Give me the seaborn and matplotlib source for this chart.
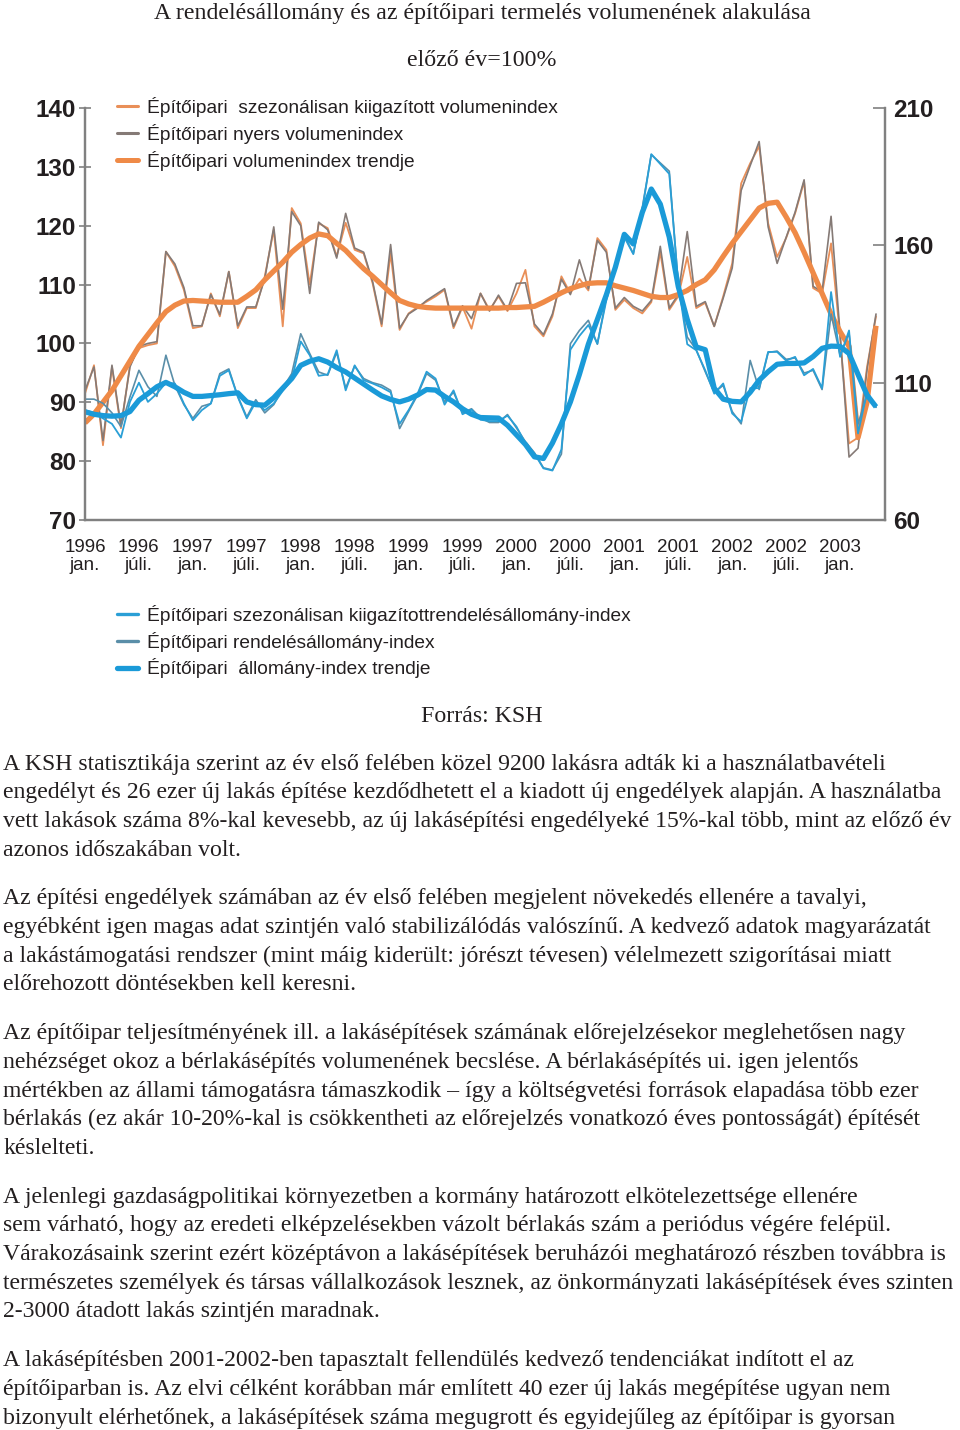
import matplotlib
matplotlib.use('Agg')
import matplotlib.pyplot as plt
from matplotlib.lines import Line2D
import pandas as pd
import seaborn as sns

# monthly data, 1996 jan. - 2003 máj.
vol_sa = [91.5, 96.3, 82.7, 96.0, 85.6, 96.3, 99.2, 99.7, 100.0, 115.6, 113.1, 109.1,
          102.6, 102.9, 108.5, 104.6, 112.2, 102.6, 106.0, 106.0, 111.4, 119.3, 102.9, 123.0,
          120.4, 110.0, 120.4, 119.6, 114.8, 120.5, 115.9, 115.3, 110.2, 102.9, 115.3, 102.3,
          105.1, 106.2, 107.1, 108.0, 109.1, 102.6, 106.2, 102.5, 108.5, 105.7, 108.0, 105.5,
          108.5, 112.5, 102.9, 101.2, 104.6, 111.4, 108.5, 111.0, 109.0, 117.9, 115.9, 105.7,
          107.4, 106.0, 105.1, 107.0, 115.5, 105.7, 108.0, 114.7, 106.0, 106.9, 102.9, 108.0,
          113.6, 127.2, 130.6, 133.5, 120.4, 114.7, 117.9, 122.1, 127.5, 109.4, 108.5, 117.0,
          101.2, 83.0, 84.0, 96.0, 104.6]
vol_raw = [92.0, 96.0, 83.5, 96.3, 86.0, 96.0, 99.5, 100.0, 100.3, 115.6, 113.5, 109.5,
           103.0, 103.0, 108.3, 104.9, 112.2, 103.0, 106.2, 106.2, 111.0, 119.8, 105.8, 122.4,
           120.0, 108.5, 120.6, 119.3, 114.5, 122.1, 116.2, 115.5, 110.5, 103.3, 116.8, 102.6,
           105.0, 106.0, 107.3, 108.3, 109.3, 102.9, 106.4, 104.2, 108.5, 105.5, 108.2, 105.7,
           110.2, 110.3, 103.3, 101.5, 105.0, 110.9, 108.3, 114.2, 109.3, 117.5, 115.5, 106.0,
           107.8, 106.3, 105.5, 107.3, 116.5, 106.0, 108.3, 119.0, 106.3, 107.1, 102.9, 107.7,
           112.8, 126.0, 130.2, 134.3, 119.8, 113.6, 118.0, 122.3, 127.8, 109.7, 108.8, 121.6,
           101.7, 80.7, 82.2, 95.5, 105.0]
vol_trend = [86.5, 88.0, 90.0, 92.0, 94.5, 97.0, 99.5, 101.5, 103.5, 105.4, 106.5, 107.2,
             107.3, 107.2, 107.1, 107.0, 107.0, 107.0, 108.0, 109.1, 110.8, 112.3, 113.8, 115.5,
             116.8, 117.9, 118.6, 118.3, 117.0, 115.8, 114.2, 112.7, 111.4, 110.0, 108.6, 107.3,
             106.7, 106.3, 106.1, 106.0, 106.0, 106.0, 106.0, 106.0, 106.0, 106.0, 106.0, 106.1,
             106.1, 106.2, 106.3, 107.0, 107.8, 108.6, 109.3, 109.8, 110.2, 110.3, 110.3, 109.8,
             109.4, 109.0, 108.5, 108.0, 107.8, 107.8, 108.3, 109.0, 110.0, 110.8, 112.5, 114.8,
             117.0, 119.0, 121.0, 123.0, 123.8, 124.0, 121.5, 118.8, 115.5, 112.0, 108.5, 105.0,
             102.0, 99.5, 84.0, 90.0, 103.0]

ord_sa = [100.0, 99.0, 97.0, 95.0, 90.0, 103.0, 110.0, 103.0, 106.0, 110.0, 109.7, 102.4,
          96.3, 100.0, 102.4, 112.5, 114.5, 104.8, 97.0, 103.0, 100.0, 102.4, 107.0, 111.0,
          125.0, 120.0, 112.5, 113.0, 121.8, 107.2, 116.3, 110.9, 109.7, 108.3, 106.5, 95.0,
          100.0, 106.0, 114.0, 111.5, 102.0, 107.2, 98.5, 100.2, 96.5, 96.0, 96.0, 98.0,
          94.0, 87.9, 84.2, 78.8, 78.0, 85.7, 122.0, 127.0, 131.0, 124.2, 140.0, 152.0,
          163.0, 156.8, 173.0, 193.2, 189.6, 186.0, 146.0, 124.0, 121.8, 114.5, 106.0, 109.7,
          98.8, 95.8, 108.0, 108.0, 121.2, 121.2, 118.0, 119.4, 112.7, 115.0, 108.0, 143.0,
          119.4, 129.0, 91.5, 106.6, 101.2]
ord_raw = [104.0, 104.0, 102.5, 99.0, 94.0, 104.8, 114.5, 108.5, 105.0, 120.0, 109.0, 102.0,
           97.0, 101.4, 102.4, 113.3, 115.0, 105.0, 97.5, 103.8, 99.0, 102.0, 108.0, 113.3,
           127.8, 120.6, 113.9, 112.7, 121.0, 108.0, 116.0, 111.5, 110.0, 109.1, 107.2, 93.3,
           99.5, 105.5, 113.3, 110.9, 103.0, 106.5, 99.0, 100.5, 97.2, 95.5, 95.5, 98.4,
           93.5, 88.5, 84.5, 79.0, 78.2, 84.0, 124.2, 129.0, 132.7, 124.0, 141.0, 153.0,
           163.5, 157.0, 173.8, 193.0, 190.0, 187.0, 146.0, 126.6, 122.0, 114.0, 106.5, 109.0,
           99.5, 95.0, 118.1, 107.5, 121.0, 121.5, 118.5, 119.0, 113.5, 114.5, 107.5, 135.0,
           120.0, 128.0, 95.0, 105.5, 101.0]
ord_trend = [99.4, 98.5, 98.0, 97.8, 98.0, 99.5, 103.6, 106.0, 108.5, 110.1, 108.5, 106.5,
             105.0, 105.0, 105.3, 105.6, 106.0, 106.3, 103.0, 102.0, 101.8, 104.5, 108.0, 111.5,
             116.3, 117.8, 118.7, 117.5, 115.5, 113.9, 111.7, 109.5, 107.3, 105.2, 103.9, 103.0,
             104.0, 105.5, 107.5, 107.3, 105.0, 103.0, 100.5, 98.5, 97.3, 97.2, 97.1, 94.5,
             91.0, 87.5, 83.0, 82.4, 88.0, 95.0, 103.0, 113.0, 124.0, 133.0, 142.0, 152.0,
             164.0, 160.5, 172.0, 180.5, 175.0, 163.0, 145.0, 133.0, 123.0, 122.0, 108.0, 104.0,
             103.2, 103.0, 106.5, 110.9, 114.0, 116.7, 117.0, 117.0, 117.2, 119.5, 122.5, 123.3,
             123.2, 120.6, 113.0, 105.5, 101.2]

tick_labels = ['1996\njan.', '1996\njúli.', '1997\njan.', '1997\njúli.', '1998\njan.',
               '1998\njúli.', '1999\njan.', '1999\njúli.', '2000\njan.', '2000\njúli.',
               '2001\njan.', '2001\njúli.', '2002\njan.', '2002\njúli.', '2003\njan.']

vol_labels = ['Építőipari  szezonálisan kiigazított volumenindex',
              'Építőipari nyers volumenindex',
              'Építőipari volumenindex trendje']
ord_labels = ['Építőipari szezonálisan kiigazítottrendelésállomány-index',
              'Építőipari rendelésállomány-index',
              'Építőipari  állomány-index trendje']

paragraphs = [
    ['A KSH statisztikája szerint az év első felében közel 9200 lakásra adták ki a használatbavételi',
     'engedélyt és 26 ezer új lakás építése kezdődhetett el a kiadott új engedélyek alapján. A használatba',
     'vett lakások száma 8%-kal kevesebb, az új lakásépítési engedélyeké 15%-kal több, mint az előző év',
     'azonos időszakában volt.'],
    ['Az építési engedélyek számában az év első felében megjelent növekedés ellenére a tavalyi,',
     'egyébként igen magas adat szintjén való stabilizálódás valószínű. A kedvező adatok magyarázatát',
     'a lakástámogatási rendszer (mint máig kiderült: jórészt tévesen) vélelmezett szigorításai miatt',
     'előrehozott döntésekben kell keresni.'],
    ['Az építőipar teljesítményének ill. a lakásépítések számának előrejelzésekor meglehetősen nagy',
     'nehézséget okoz a bérlakásépítés volumenének becslése. A bérlakásépítés ui. igen jelentős',
     'mértékben az állami támogatásra támaszkodik – így a költségvetési források elapadása több ezer',
     'bérlakás (ez akár 10-20%-kal is csökkentheti az előrejelzés vonatkozó éves pontosságát) építését',
     'késlelteti.'],
    ['A jelenlegi gazdaságpolitikai környezetben a kormány határozott elkötelezettsége ellenére',
     'sem várható, hogy az eredeti elképzelésekben vázolt bérlakás szám a periódus végére felépül.',
     'Várakozásaink szerint ezért középtávon a lakásépítések beruházói meghatározó részben továbbra is',
     'természetes személyek és társas vállalkozások lesznek, az önkormányzati lakásépítések éves szinten',
     '2-3000 átadott lakás szintjén maradnak.'],
    ['A lakásépítésben 2001-2002-ben tapasztalt fellendülés kedvező tendenciákat indított el az',
     'építőiparban is. Az elvi célként korábban már említett 40 ezer új lakás megépítése ugyan nem',
     'bizonyult elérhetőnek, a lakásépítések száma megugrott és egyidejűleg az építőipar is gyorsan'],
]

sns.set_style('white')
plt.rcParams['font.family'] = ['Liberation Sans', 'DejaVu Sans']

ORANGE = '#ef8a47'
ORANGE_THIN = '#e98f58'
GRAY = '#857a76'
BLUE = '#1a9ad8'
BLUE_THIN = '#2a9fd6'
BLUE_GRAY = '#5a8ea8'
AXIS_GRAY = '#808080'
TEXT = '#231f20'

df = pd.DataFrame({'month': range(len(vol_sa)),
                   'vol_sa': vol_sa, 'vol_raw': vol_raw, 'vol_trend': vol_trend,
                   'ord_sa': ord_sa, 'ord_raw': ord_raw, 'ord_trend': ord_trend})

W, H = 960, 1430
fig = plt.figure(figsize=(W / 100, H / 100), dpi=100)
ax = fig.add_axes([85 / W, 1 - 520 / H, 800 / W, 412 / H])

sns.lineplot(data=df, x='month', y='vol_sa', ax=ax, color=ORANGE_THIN, lw=1.3)
sns.lineplot(data=df, x='month', y='vol_raw', ax=ax, color=GRAY, lw=1.2)
sns.lineplot(data=df, x='month', y='vol_trend', ax=ax, color=ORANGE, lw=3.8,
             solid_capstyle='butt')

ax2 = ax.twinx()
sns.lineplot(data=df, x='month', y='ord_raw', ax=ax2, color=BLUE_GRAY, lw=1.2)
sns.lineplot(data=df, x='month', y='ord_sa', ax=ax2, color=BLUE_THIN, lw=1.3)
sns.lineplot(data=df, x='month', y='ord_trend', ax=ax2, color=BLUE, lw=3.8,
             solid_capstyle='butt')

ax.set_xlim(0, 89)
ax.set_ylim(70, 140)
ax2.set_ylim(60, 210)
ax.set_yticks([70, 80, 90, 100, 110, 120, 130, 140])
ax2.set_yticks([60, 110, 160, 210])
ax.set_xticks(range(0, 85, 6))
ax.set_xticklabels(tick_labels, fontsize=13.5, linespacing=1.05, color=TEXT)
ax.set_xlabel('')
ax.set_ylabel('')
ax2.set_ylabel('')

for a in (ax, ax2):
    for side in ('left', 'right', 'bottom'):
        a.spines[side].set_color(AXIS_GRAY)
        a.spines[side].set_linewidth(1.6)
    a.spines['top'].set_visible(False)

ax.tick_params(axis='y', direction='inout', length=9, width=1.2, color=AXIS_GRAY,
               labelsize=17.5, pad=2, labelcolor=TEXT)
ax.tick_params(axis='x', direction='inout', length=12, width=1.2, color=AXIS_GRAY, pad=8)
ax2.tick_params(axis='y', direction='in', length=9, width=1.2, color=AXIS_GRAY,
                labelsize=17.5, pad=6, labelcolor=TEXT)
for lab in ax.get_yticklabels() + ax2.get_yticklabels():
    lab.set_fontweight('bold')

vol_handles = [Line2D([], [], color=ORANGE_THIN, lw=2.2),
               Line2D([], [], color=GRAY, lw=2.2),
               Line2D([], [], color=ORANGE, lw=3.6)]
leg1 = ax.legend(vol_handles, vol_labels, loc='upper left', bbox_to_anchor=(0.03, 1.045),
                 frameon=False, fontsize=13.8, handlelength=1.1, handletextpad=0.5,
                 labelspacing=0.36, borderaxespad=0)
for t in leg1.get_texts():
    t.set_color(TEXT)

ord_handles = [Line2D([], [], color=BLUE_THIN, lw=2.4),
               Line2D([], [], color=BLUE_GRAY, lw=2.4),
               Line2D([], [], color=BLUE, lw=3.8)]
leg2 = fig.legend(ord_handles, ord_labels, loc='upper left',
                  bbox_to_anchor=(109 / W, 1 - 597 / H), frameon=False, fontsize=13.8,
                  handlelength=1.1, handletextpad=0.5, labelspacing=0.36, borderaxespad=0)
for t in leg2.get_texts():
    t.set_color(TEXT)

serif = ['Liberation Serif', 'DejaVu Serif']
fig.text(482 / W, 1 - 13 / H, 'A rendelésállomány és az építőipari termelés volumenének alakulása',
         ha='center', va='center', fontsize=17.2, family=serif, color=TEXT)
fig.text(482 / W, 1 - 61 / H, 'előző év=100%', ha='center', va='center',
         fontsize=17.2, family=serif, color=TEXT)
fig.text(482 / W, 1 - 716 / H, 'Forrás: KSH', ha='center', va='center',
         fontsize=17.2, family=serif, color=TEXT)

y = 764
for para in paragraphs:
    for line in para:
        fig.text(3 / W, 1 - y / H, line, ha='left', va='center', fontsize=17.1,
                 family=serif, color=TEXT)
        y += 28.7
    y += 20

fig.savefig('out.png', dpi=100)
